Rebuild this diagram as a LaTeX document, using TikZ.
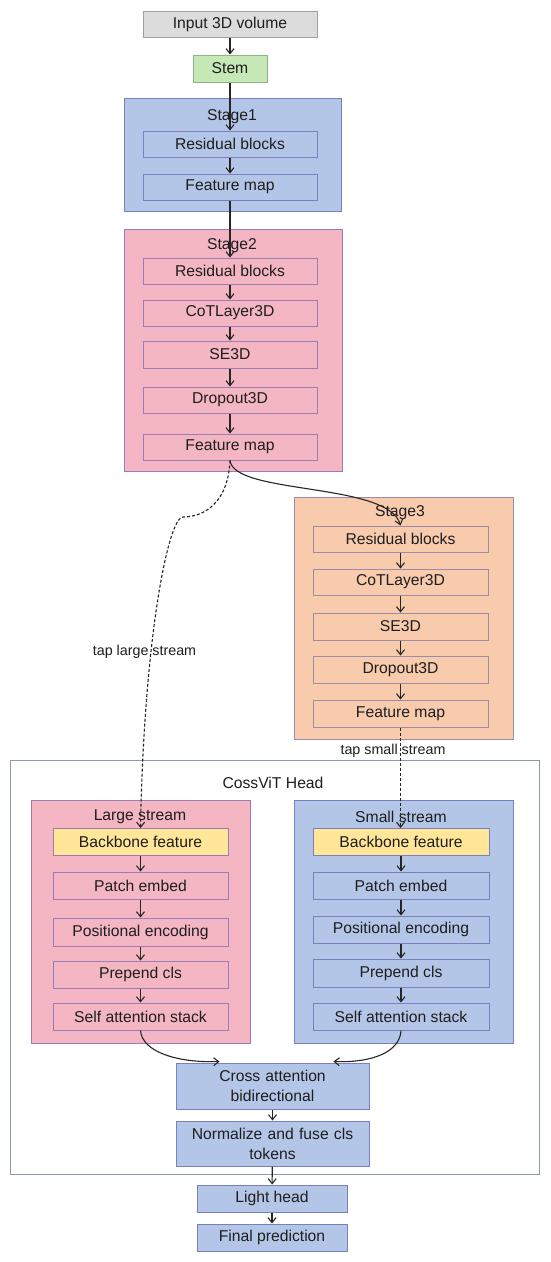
\documentclass[tikz,border=0pt]{standalone}
\usepackage{fontspec}
\setmainfont{Liberation Sans}
\usetikzlibrary{arrows.meta,calc}
\definecolor{cgray}{HTML}{DCDCDC}
\definecolor{cgrayb}{HTML}{A0A0A0}
\definecolor{cgreen}{HTML}{C6E7B6}
\definecolor{cgreenb}{HTML}{8FB383}
\definecolor{cblue}{HTML}{B4C6E7}
\definecolor{cblueb}{HTML}{7A7FBE}
\definecolor{cpink}{HTML}{F4B6C2}
\definecolor{cpinkb}{HTML}{9A7CB8}
\definecolor{corange}{HTML}{F8CBAD}
\definecolor{corangeb}{HTML}{9C8AA8}
\definecolor{cyellow}{HTML}{FFE699}
\definecolor{cheadb}{HTML}{8A9AAC}
\definecolor{ctext}{HTML}{1E1E1E}
\begin{document}
\begin{tikzpicture}[x=1pt,y=-1pt,
  every node/.style={font=\fontsize{15.7}{20}\selectfont, text=ctext},
  box/.style={draw, line width=1pt, minimum width=174, minimum height=27, inner sep=1pt, align=center},
  wbox/.style={box, minimum width=175},
  grp/.style={draw, line width=1pt, inner sep=0pt},
  ttl/.style={inner sep=0pt},
  arr/.style={-{Straight Barb[length=5pt,width=8pt]}, line width=1.1pt, draw=black!85},
  darr/.style={arr, dashed, dash pattern=on 3pt off 2pt},
  lbl/.style={inner sep=0pt}
]
\useasboundingbox (0,0) rectangle (550,1262);
\fill[white] (0,0) rectangle (550,1262);

% ---------------- containers ----------------
\node[grp, fill=cblue, draw=cblueb, minimum width=217, minimum height=113] (stage1) at (232.5,154.5) {};
\node[grp, fill=cpink, draw=cpinkb, minimum width=218, minimum height=242] (stage2) at (233,350) {};
\node[grp, fill=corange, draw=corangeb, minimum width=219, minimum height=242] (stage3) at (403.5,618) {};
\node[grp, draw=cheadb, minimum width=529, minimum height=414] (head) at (274.5,967) {};
\node[grp, fill=cpink, draw=cpinkb, minimum width=219, minimum height=243] (large) at (141,921.5) {};
\node[grp, fill=cblue, draw=cblueb, minimum width=219, minimum height=243] (small) at (404,921.5) {};

% titles
\node[ttl] (t1) at (232,117) {Stage1};
\node[ttl] (t2) at (232,246) {Stage2};
\node[ttl] (t3) at (400,513) {Stage3};
\node[ttl] (th) at (273,783) {CossViT Head};
\node[ttl] (tl) at (140,817) {Large stream};
\node[ttl] (ts) at (401,817) {Small stream};

% ---------------- top ----------------
\node[box, fill=cgray, draw=cgrayb, minimum height=26] (in) at (230,24) {Input 3D volume};
\node[box, fill=cgreen, draw=cgreenb, minimum width=74] (stem) at (230,68.5) {Stem};

% stage1
\node[box, fill=cblue, draw=cblueb, minimum height=26] (s1rb) at (230,144) {Residual blocks};
\node[box, fill=cblue, draw=cblueb, minimum height=26] (s1fm) at (230,187) {Feature map};

% stage2
\node[box, fill=cpink, draw=cpinkb, minimum height=26] (s2rb) at (230,271) {Residual blocks};
\node[box, fill=cpink, draw=cpinkb, minimum height=26] (s2cot) at (230,313) {CoTLayer3D};
\node[box, fill=cpink, draw=cpinkb] (s2se) at (230,354.5) {SE3D};
\node[box, fill=cpink, draw=cpinkb, minimum height=26] (s2do) at (230,400) {Dropout3D};
\node[box, fill=cpink, draw=cpinkb, minimum height=26] (s2fm) at (230,447) {Feature map};

% stage3
\node[wbox, fill=corange, draw=corangeb, minimum height=26] (s3rb) at (400.5,539) {Residual blocks};
\node[wbox, fill=corange, draw=corangeb, minimum height=26] (s3cot) at (400.5,582) {CoTLayer3D};
\node[wbox, fill=corange, draw=corangeb] (s3se) at (400.5,626.5) {SE3D};
\node[wbox, fill=corange, draw=corangeb] (s3do) at (400.5,669.5) {Dropout3D};
\node[wbox, fill=corange, draw=corangeb] (s3fm) at (400.5,713.5) {Feature map};

% large stream
\node[wbox, fill=cyellow, draw=cpinkb] (lbf) at (140.5,842) {Backbone feature};
\node[wbox, fill=cpink, draw=cpinkb] (lpe) at (140.5,885.5) {Patch embed};
\node[wbox, fill=cpink, draw=cpinkb, minimum height=28] (lpos) at (140.5,932) {Positional encoding};
\node[wbox, fill=cpink, draw=cpinkb] (lpc) at (140.5,974.5) {Prepend cls};
\node[wbox, fill=cpink, draw=cpinkb] (lsa) at (140.5,1016.5) {Self attention stack};

% small stream
\node[wbox, fill=cyellow, draw=cblueb, minimum width=176] (sbf) at (401,842) {Backbone feature};
\node[wbox, fill=cblue, draw=cblueb, minimum width=176] (spe) at (401,885.5) {Patch embed};
\node[wbox, fill=cblue, draw=cblueb, minimum width=176] (spos) at (401,929.5) {Positional encoding};
\node[wbox, fill=cblue, draw=cblueb, minimum width=176, minimum height=28] (spc) at (401,973) {Prepend cls};
\node[wbox, fill=cblue, draw=cblueb, minimum width=176] (ssa) at (401,1016.5) {Self attention stack};

% bottom
\node[box, fill=cblue, draw=cblueb, minimum width=193, minimum height=46, text width=185] (cross) at (272.5,1086) {Cross attention\\bidirectional};
\node[box, fill=cblue, draw=cblueb, minimum width=193, minimum height=45, text width=185] (norm) at (272.5,1143.5) {Normalize and fuse cls\\tokens};
\node[box, fill=cblue, draw=cblueb, minimum width=150] (light) at (272,1198.5) {Light head};
\node[box, fill=cblue, draw=cblueb, minimum width=150] (final) at (272,1237.5) {Final prediction};

% labels
\node[lbl] (ltap) at (144.5,652) {\fontsize{14.3}{16}\selectfont tap large stream};
\node[lbl] (stap) at (393,751) {\fontsize{14.3}{16}\selectfont tap small stream};

% ---------------- connectors ----------------
\draw[arr] (in) -- (stem);
\draw[arr] (stem) -- (s1rb);
\draw[arr] (s1rb) -- (s1fm);
\draw[arr] (s1fm) -- (s2rb);
\draw[arr] (s2rb) -- (s2cot);
\draw[arr] (s2cot) -- (s2se);
\draw[arr] (s2se) -- (s2do);
\draw[arr] (s2do) -- (s2fm);
\draw[arr] (s2fm.south) .. controls (234,495) and (388,482) .. (s3rb.north);
\draw[darr] (s2fm.south) .. controls (228,505) and (202,517) .. (183,517) .. controls (168,517) and (144,640) .. (lbf.north);
\draw[arr] (s3rb) -- (s3cot);
\draw[arr] (s3cot) -- (s3se);
\draw[arr] (s3se) -- (s3do);
\draw[arr] (s3do) -- (s3fm);
\draw[darr] (s3fm.south) -- (s3fm.south |- sbf.north);

\draw[arr] (lbf) -- (lpe);
\draw[arr] (lpe) -- (lpos);
\draw[arr] (lpos) -- (lpc);
\draw[arr] (lpc) -- (lsa);
\draw[arr] (sbf) -- (spe);
\draw[arr] (spe) -- (spos);
\draw[arr] (spos) -- (spc);
\draw[arr] (spc) -- (ssa);

\coordinate (cl) at ($(cross.north west)+(44,-1)$);
\coordinate (cr) at ($(cross.north east)+(-36,-1)$);
\draw[arr] (lsa.south) .. controls (142,1052) and (178,1063) .. (cl);
\draw[arr] (ssa.south) .. controls (400,1052) and (372,1063) .. (cr);
\draw[arr] (cross) -- (norm);
\draw[arr] (norm) -- (light);
\draw[arr] (light) -- (final);
\end{tikzpicture}
\end{document}
